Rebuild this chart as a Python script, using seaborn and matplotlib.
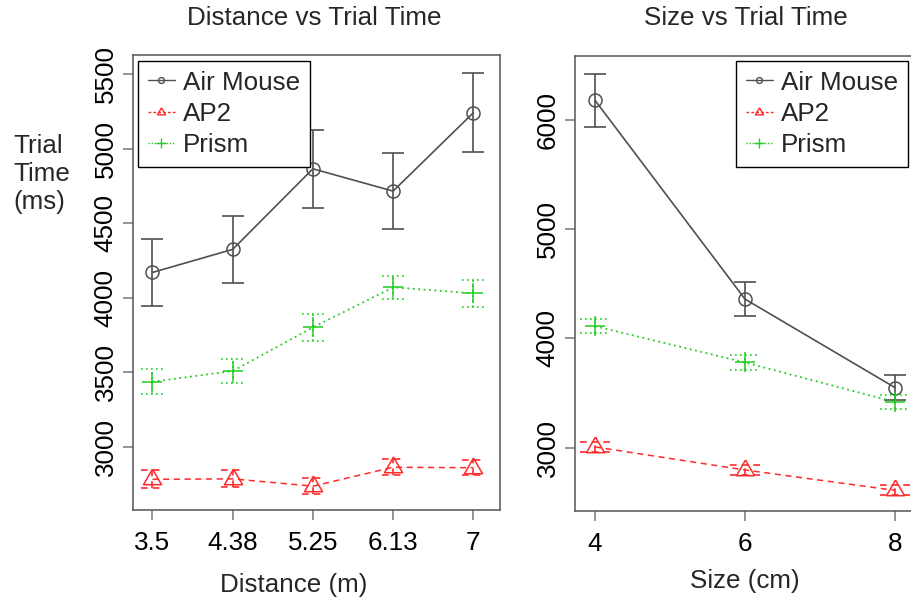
import matplotlib
matplotlib.use("Agg")
import matplotlib.pyplot as plt
from matplotlib.lines import Line2D
import seaborn as sns
import pandas as pd

# Distance panel (x shown as evenly spaced categories)
distance_labels = ["3.5", "4.38", "5.25", "6.13", "7"]
air_dist = [4170, 4325, 4866, 4716, 5242]
air_dist_err = [226, 225, 262, 255, 266]
ap2_dist = [2781, 2784, 2735, 2862, 2859]
ap2_dist_err = [60, 57, 53, 53, 50]
prism_dist = [3436, 3508, 3801, 4070, 4030]
prism_dist_err = [84, 82, 90, 75, 92]

# Size panel
sizes = [4, 6, 8]
air_size = [6183, 4361, 3550]
air_size_err = [245, 157, 115]
ap2_size = [3006, 2795, 2608]
ap2_size_err = [46, 49, 46]
prism_size = [4113, 3780, 3418]
prism_size_err = [65, 67, 64]

devices = ["Air Mouse", "AP2", "Prism"]

sns.set_style("ticks")
plt.rcParams["font.family"] = ["Liberation Sans", "DejaVu Sans"]
FS = 18.7

GRAY = "#505050"
RED = "#ff2a2a"
GREEN = "#22cc22"

# R-style equilateral triangle centred on its centroid
TRI = [(0, 1.555), (1.347, -0.778), (-1.347, -0.778), (0, 1.555)]

style = {
    "Air Mouse": dict(color=GRAY, marker="o", ms=9.4, dashes=None, lw=1.2),
    "AP2": dict(color=RED, marker=TRI, ms=15, dashes=(4, 3), lw=1.1),
    "Prism": dict(color=GREEN, marker="+", ms=14.5, dashes=(1, 2), lw=1.3),
}

fig = plt.figure(figsize=(9.11, 6.02), dpi=100)
W, H = 911, 602


def add_axes(x0, y0, x1, y1):
    return fig.add_axes([x0 / W, 1 - y1 / H, (x1 - x0) / W, (y1 - y0) / H])


ax1 = add_axes(133, 55, 500, 510)
ax2 = add_axes(575, 56, 915, 511)


def draw(ax, x, series, cap_half):
    for name, (vals, errs) in zip(devices, series):
        st = style[name]
        df = pd.DataFrame({"x": x, "y": vals})
        kw = dict(color=st["color"], marker=st["marker"], markersize=st["ms"],
                  markerfacecolor="none", markeredgecolor=st["color"],
                  markeredgewidth=1.1, linewidth=st["lw"])
        if st["dashes"] is not None:
            kw["dashes"] = st["dashes"]
        sns.lineplot(data=df, x="x", y="y", ax=ax, errorbar=None, sort=False, **kw)

        if st["dashes"] is None:
            ax.errorbar(x, vals, yerr=errs, fmt="none", ecolor=st["color"],
                        elinewidth=1.2, capsize=8, capthick=1.2)
        else:
            # patterned error bars: vertical whisker plus dashed caps
            eb = ax.errorbar(x, vals, yerr=errs, fmt="none", ecolor=st["color"],
                             elinewidth=1.2, capsize=0)
            for art in eb[2]:
                art.set_dashes([(0, st["dashes"])])
            for xi, v, e in zip(x, vals, errs):
                for yy in (v - e, v + e):
                    ax.plot([xi - cap_half, xi + cap_half], [yy, yy],
                            color=st["color"], lw=1.2, dashes=st["dashes"])


xpos = list(range(1, len(distance_labels) + 1))
draw(ax1, xpos, [(air_dist, air_dist_err), (ap2_dist, ap2_dist_err),
                 (prism_dist, prism_dist_err)], 0.14)
draw(ax2, sizes, [(air_size, air_size_err), (ap2_size, ap2_size_err),
                  (prism_size, prism_size_err)], 0.2)

ax1.set_xlim(0.757, 5.333)
ax1.set_ylim(2575, 5630)
ax1.set_xticks(xpos)
ax1.set_xticklabels(distance_labels)
ax1.set_yticks([3000, 3500, 4000, 4500, 5000, 5500])

ax2.set_xlim(3.733, 8.267)
ax2.set_ylim(2419, 6589)
ax2.set_xticks(sizes)
ax2.set_yticks([3000, 4000, 5000, 6000])

for ax in (ax1, ax2):
    ax.set_xlabel("")
    ax.set_ylabel("")
    for sp in ax.spines.values():
        sp.set_visible(True)
        sp.set_color("#555555")
        sp.set_linewidth(1.1)
    ax.tick_params(axis="both", direction="out", length=7, width=1.1,
                   color="#777777", labelsize=FS, labelcolor="black")
    ax.tick_params(axis="x", pad=8)
    ax.tick_params(axis="y", pad=4)
    for lab in ax.get_yticklabels():
        lab.set_rotation(90)
        lab.set_va("center")

handles = []
for name in devices:
    st = style[name]
    h = Line2D([0], [0], color=st["color"], marker=st["marker"],
               markersize=st["ms"] * 0.45, markerfacecolor="none",
               markeredgecolor=st["color"], markeredgewidth=1.0, lw=1.0)
    if st["dashes"] is not None:
        h.set_dashes((2, 1.5) if name == "AP2" else (1, 1.2))
    handles.append(h)

leg_kw = dict(fontsize=FS, frameon=True, fancybox=False, framealpha=1,
              edgecolor="black", handlelength=1.05, handletextpad=0.3,
              borderpad=0.38, labelspacing=0.28, borderaxespad=0)
l1 = ax1.legend(handles, devices, loc="upper left",
                bbox_to_anchor=((137.7 - 133) / 367, (510 - 60.7) / 455), **leg_kw)
l2 = ax2.legend(handles, devices, loc="upper left",
                bbox_to_anchor=((735.7 - 575) / 340, (511 - 60.7) / 455), **leg_kw)
for l in (l1, l2):
    l.get_frame().set_linewidth(1.0)

fig.text(314 / W, 1 - 18 / H, "Distance vs Trial Time", ha="center", va="center", fontsize=FS)
fig.text(746 / W, 1 - 18 / H, "Size vs Trial Time", ha="center", va="center", fontsize=FS)
fig.text(294 / W, 1 - 585 / H, "Distance (m)", ha="center", va="center", fontsize=FS)
fig.text(745 / W, 1 - 581 / H, "Size (cm)", ha="center", va="center", fontsize=FS)
fig.text(13 / W, 1 - 174 / H, "Trial\nTime\n(ms)", ha="left", va="center",
         fontsize=FS, linespacing=1.2)

fig.savefig("out.png", dpi=100)
